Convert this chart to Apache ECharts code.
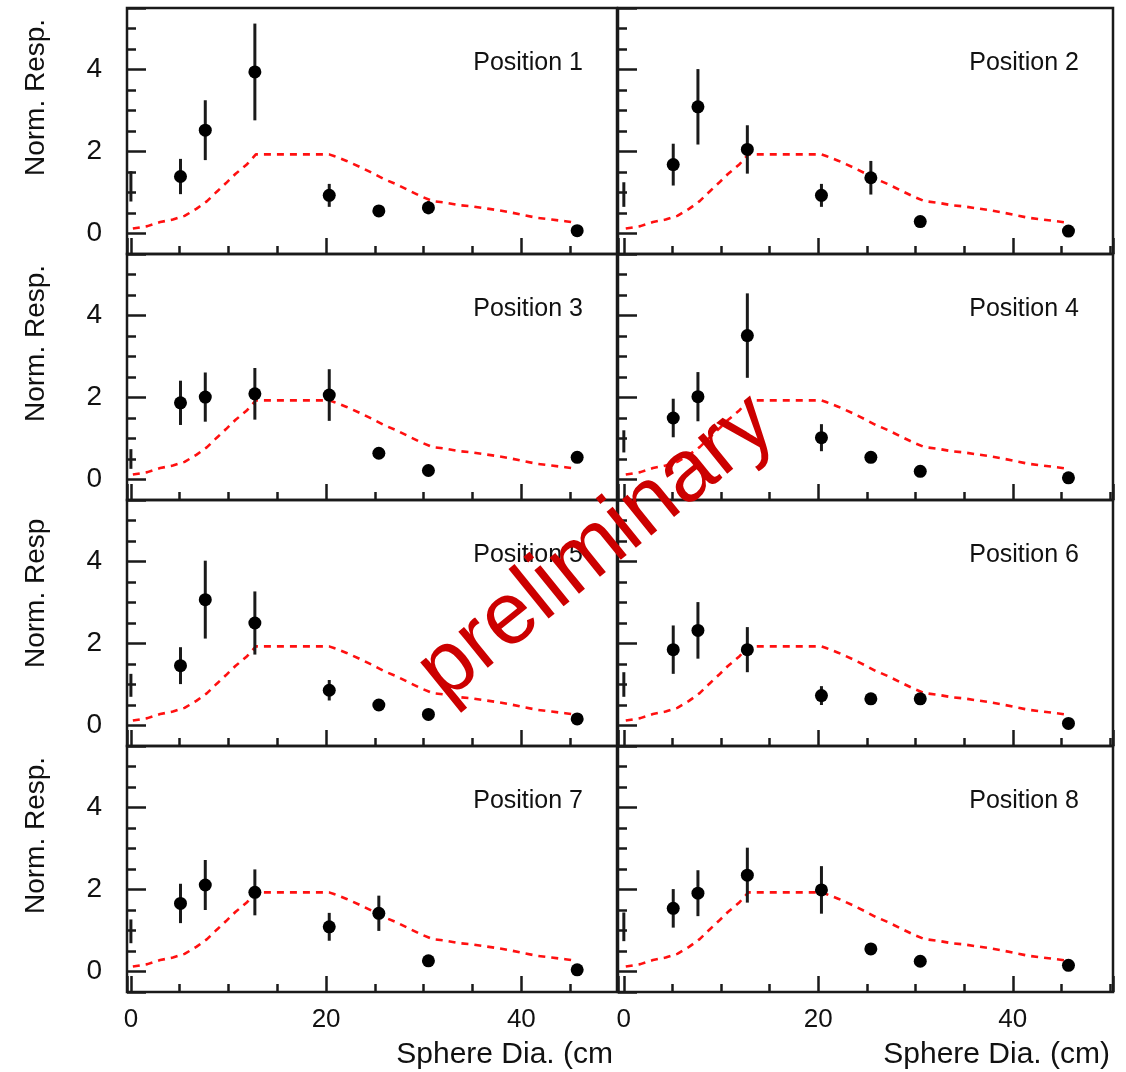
<!DOCTYPE html>
<html>
<head>
<meta charset="utf-8">
<title>Norm. Resp. vs Sphere Dia.</title>
<script src="https://cdn.jsdelivr.net/npm/echarts@6/dist/echarts.min.js"></script>
<style>
  html, body { margin: 0; padding: 0; background: #fff; }
  #chart { width: 1126px; height: 1072px; }
</style>
</head>
<body>
<div id="chart"></div>
<script>
// sphere diameters (cm)
const diameters = [5.08, 7.62, 12.7, 20.32, 25.4, 30.48, 45.72]
const positions = ['Position 1', 'Position 2', 'Position 3', 'Position 4',
  'Position 5', 'Position 6', 'Position 7', 'Position 8']

// normalised response and errors per position
const respP1 = [1.39, 2.52, 3.94, 0.93, 0.55, 0.63, 0.07]
const errP1 = [0.43, 0.73, 1.18, 0.28, 0.1, 0.16, 0.06]
const respP2 = [1.68, 3.09, 2.05, 0.93, 1.36, 0.29, 0.06]
const errP2 = [0.51, 0.92, 0.59, 0.28, 0.41, 0.1, 0.05]
const respP3 = [1.87, 2.01, 2.09, 2.06, 0.64, 0.22, 0.54]
const errP3 = [0.54, 0.6, 0.63, 0.63, 0.13, 0.1, 0.1]
const respP4 = [1.5, 2.02, 3.51, 1.02, 0.54, 0.2, 0.04]
const errP4 = [0.47, 0.6, 1.03, 0.33, 0.1, 0.08, 0.05]
const respP5 = [1.46, 3.07, 2.5, 0.86, 0.5, 0.27, 0.16]
const errP5 = [0.45, 0.95, 0.77, 0.25, 0.1, 0.08, 0.05]
const respP6 = [1.85, 2.32, 1.85, 0.73, 0.65, 0.65, 0.05]
const errP6 = [0.59, 0.69, 0.55, 0.23, 0.1, 0.1, 0.05]
const respP7 = [1.66, 2.11, 1.93, 1.09, 1.42, 0.26, 0.04]
const errP7 = [0.48, 0.61, 0.56, 0.34, 0.43, 0.08, 0.05]
const respP8 = [1.54, 1.91, 2.35, 1.99, 0.55, 0.25, 0.15]
const errP8 = [0.47, 0.56, 0.67, 0.58, 0.1, 0.08, 0.05]

// bare detector (0 cm) value, only the error bar shows at the frame edge
const bareResp = [1.15, 0.95, 0.5, 0.93, 0.98, 1.0, 0.98, 1.09]
const bareErr = [0.37, 0.3, 0.24, 0.27, 0.28, 0.3, 0.29, 0.35]

// red dashed reference curve (same in each panel)
const curveX = [0.2, 1.7, 3.0, 4.3, 5.5, 6.7, 7.8, 8.8, 9.75, 10.7, 11.9, 12.8, 20.3, 20.8, 22.1,
  23.5, 24.7, 25.9, 27.2, 28.4, 29.7, 30.9, 32.3, 33.7, 35.0, 36.4, 37.6, 39.0, 40.4, 41.7, 43.1, 44.5, 45.7]
const curveY = [0.12, 0.18, 0.28, 0.34, 0.43, 0.6, 0.79, 1.02, 1.23, 1.45, 1.69, 1.93, 1.93, 1.89, 1.77,
  1.62, 1.48, 1.33, 1.2, 1.06, 0.91, 0.79, 0.75, 0.69, 0.66, 0.61, 0.57, 0.51, 0.44, 0.38, 0.34, 0.3, 0.26]

const xTicks = ['0', '20', '40']
const yTicks = ['0', '2', '4']

const resp = [respP1, respP2, respP3, respP4, respP5, respP6, respP7, respP8]
const errs = [errP1, errP2, errP3, errP4, errP5, errP6, errP7, errP8]

const FONT = 'Liberation Sans, Arial, Helvetica, sans-serif'
const colLeft = [127, 618]
const colWidth = [490, 495]
const colMin = [-0.4, -0.6]
const colMax = [49.8, 50.3]
const rowTop = [8, 254, 500, 746]
const rowH = 246

const chart = echarts.init(document.getElementById('chart'))

const grid = []
const xAxis = []
const yAxis = []
const series = []
const graphic = []

const tickStyle = { color: '#1a1a1a', width: 2.5 }

positions.forEach((name, i) => {
  const r = Math.floor(i / 2)
  const c = i % 2
  grid.push({
    left: colLeft[c], top: rowTop[r], width: colWidth[c], height: rowH,
    show: true, borderColor: '#1a1a1a', borderWidth: 2.5, backgroundColor: 'transparent'
  })
  const xBase = {
    gridIndex: i, type: 'value', position: 'bottom', offset: 0,
    min: colMin[c], max: colMax[c],
    axisLine: { show: false, onZero: false }, splitLine: { show: false }
  }
  // major x ticks + labels
  xAxis.push(Object.assign({}, xBase, {
    minInterval: 20, maxInterval: 20,
    axisTick: { inside: true, length: 16, lineStyle: tickStyle },
    axisLabel: {
      show: r === 3, fontSize: 26, fontFamily: FONT, color: '#111', margin: 15,
      formatter: v => (xTicks.indexOf(String(v)) >= 0 ? String(v) : '')
    }
  }))
  // minor x ticks
  xAxis.push(Object.assign({}, xBase, {
    minInterval: 5, maxInterval: 5,
    axisTick: { inside: true, length: 8, lineStyle: tickStyle },
    axisLabel: { show: false }
  }))
  const yBase = {
    gridIndex: i, type: 'value', position: 'left', offset: 0,
    min: -0.5, max: 5.5,
    axisLine: { show: false, onZero: false }, splitLine: { show: false }
  }
  yAxis.push(Object.assign({}, yBase, {
    minInterval: 2, maxInterval: 2,
    axisTick: { inside: true, length: 19, lineStyle: tickStyle },
    axisLabel: {
      show: c === 0, fontSize: 28, fontFamily: FONT, color: '#111', margin: 25,
      formatter: v => (yTicks.indexOf(String(v)) >= 0 ? String(v) : '')
    }
  }))
  yAxis.push(Object.assign({}, yBase, {
    interval: 0.5,
    axisTick: { inside: true, length: 9, lineStyle: tickStyle },
    axisLabel: { show: false }
  }))

  const xi = 2 * i
  const yi = 2 * i

  series.push({
    type: 'line', xAxisIndex: xi, yAxisIndex: yi,
    data: curveX.map((x, k) => [x, curveY[k]]),
    symbol: 'none', silent: true, z: 2,
    lineStyle: { color: '#ff1010', width: 2.6, type: [7, 6] }
  })

  const barData = diameters.map((d, k) => [d, resp[i][k], errs[i][k]])
  barData.push([0, bareResp[i], bareErr[i]])
  series.push({
    type: 'custom', xAxisIndex: xi, yAxisIndex: yi, z: 3, silent: true,
    encode: { x: 0, y: 1 },
    data: barData,
    renderItem: (params, api) => {
      const x = api.value(0)
      const y = api.value(1)
      const e = api.value(2)
      const p1 = api.coord([x, y - e])
      const p2 = api.coord([x, y + e])
      return {
        type: 'line',
        shape: { x1: p1[0], y1: p1[1], x2: p2[0], y2: p2[1] },
        style: { stroke: '#1a1a1a', lineWidth: 3 }
      }
    }
  })

  series.push({
    type: 'scatter', xAxisIndex: xi, yAxisIndex: yi, z: 4, silent: true,
    data: diameters.map((d, k) => [d, resp[i][k]]),
    symbol: 'circle', symbolSize: 13,
    itemStyle: { color: '#000', opacity: 1 }
  })

  // panel label
  graphic.push({
    type: 'text', z: 10,
    x: colLeft[c] + colWidth[c] - 34, y: rowTop[r] + 55,
    style: {
      text: name, font: '25px ' + FONT, fill: '#111',
      textAlign: 'right', textVerticalAlign: 'middle'
    }
  })
})

// y axis titles
const yTitles = ['Norm. Resp.', 'Norm. Resp.', 'Norm. Resp', 'Norm. Resp.']
yTitles.forEach((t, r) => {
  graphic.push({
    type: 'text', z: 10,
    x: 36, y: rowTop[r] + 168, rotation: Math.PI / 2,
    style: {
      text: t, font: '28px ' + FONT, fill: '#111',
      textAlign: 'left', textVerticalAlign: 'middle'
    }
  })
})

// x axis titles
graphic.push({
  type: 'text', z: 10, x: 613, y: 1055,
  style: { text: 'Sphere Dia. (cm', font: '30px ' + FONT, fill: '#111', textAlign: 'right', textVerticalAlign: 'middle' }
})
graphic.push({
  type: 'text', z: 10, x: 1110, y: 1055,
  style: { text: 'Sphere Dia. (cm)', font: '30px ' + FONT, fill: '#111', textAlign: 'right', textVerticalAlign: 'middle' }
})

// watermark
graphic.push({
  type: 'text', z: 20,
  x: 597, y: 548, rotation: 39 * Math.PI / 180,
  style: {
    text: 'preliminary', font: '88px ' + FONT, fill: '#cc0000',
    textAlign: 'center', textVerticalAlign: 'middle'
  }
})

chart.setOption({
  animation: false,
  backgroundColor: '#fff',
  grid, xAxis, yAxis, series, graphic
})
</script>
</body>
</html>
